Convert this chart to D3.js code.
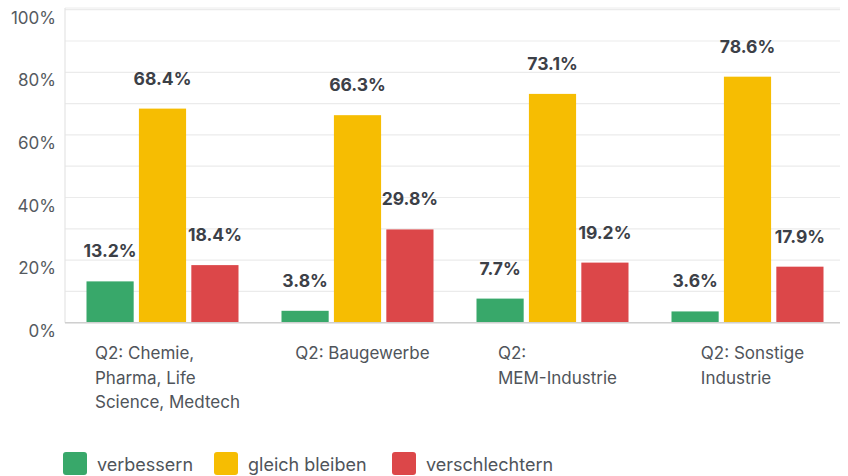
<!DOCTYPE html>
<html>
<head>
<meta charset="utf-8">
<script src="https://cdn.jsdelivr.net/npm/d3@7"></script>
<style>
  html, body { margin: 0; padding: 0; background: #ffffff; }
  svg { display: block; font-family: "Inter", "Noto Sans", sans-serif; }
</style>
</head>
<body>
<svg id="chart" width="848" height="476"></svg>
<script>
// Survey answers per industry group (share of respondents, %)
const categories = [
  ["Q2: Chemie,", "Pharma, Life", "Science, Medtech"],
  ["Q2: Baugewerbe"],
  ["Q2:", "MEM-Industrie"],
  ["Q2: Sonstige", "Industrie"]
];
const seriesNames = ["verbessern", "gleich bleiben", "verschlechtern"];
const verbessern = [13.2, 3.8, 7.7, 3.6];
const gleichBleiben = [68.4, 66.3, 73.1, 78.6];
const verschlechtern = [18.4, 29.8, 19.2, 17.9];
const yTicks = [0, 20, 40, 60, 80, 100];
const yGrid = [0, 10, 20, 30, 40, 50, 60, 70, 80, 90, 100];
const colors = ["#38a86a", "#f6bd02", "#dc4749"];

const series = [verbessern, gleichBleiben, verschlechtern];
const catKeys = categories.map(c => c.join(" "));

const svg = d3.select("#chart");
const margin = { left: 65 };
const plotRight = 845;
const baseY = 322.7;

const x0 = d3.scaleBand().domain(catKeys).range([margin.left, plotRight]).padding(0);
const groupPad = 21.5;
const x1 = d3.scaleBand().domain(seriesNames)
  .range([groupPad, x0.bandwidth() - groupPad]).paddingInner(0.1).paddingOuter(0);
const y = d3.scaleLinear().domain([0, 100]).range([baseY, 9.7]);

// Horizontal gridlines
svg.append("g").selectAll("line").data(yGrid).join("line")
  .attr("x1", margin.left).attr("x2", 840)
  .attr("y1", d => y(d)).attr("y2", d => y(d))
  .attr("stroke", "#ebebeb").attr("stroke-width", 1.2);

// Top border and vertical axis
svg.append("line").attr("x1", margin.left).attr("x2", 840)
  .attr("y1", 8).attr("y2", 8).attr("stroke", "#ececec");
svg.append("line").attr("x1", margin.left).attr("x2", margin.left)
  .attr("y1", 8).attr("y2", baseY).attr("stroke", "#e4e4e4").attr("stroke-width", 1.2);

// Y tick labels (sit slightly below their gridline)
svg.append("g").selectAll("text").data(yTicks).join("text")
  .attr("x", 56).attr("y", d => y(d) + 8)
  .attr("text-anchor", "end").attr("dominant-baseline", "central")
  .attr("font-size", 17).attr("fill", "#555a60")
  .text(d => d + "%");

// Bars with value labels
const groups = svg.append("g").selectAll("g").data(catKeys).join("g")
  .attr("transform", d => `translate(${x0(d)},0)`);

groups.each(function(cat, ci) {
  const g = d3.select(this);
  seriesNames.forEach((s, si) => {
    const v = series[si][ci];
    g.append("rect")
      .attr("x", x1(s)).attr("width", x1.bandwidth())
      .attr("y", y(v)).attr("height", baseY - y(v))
      .attr("fill", colors[si]);
    g.append("text")
      .attr("x", x1(s) + x1.bandwidth() / 2)
      .attr("y", y(v) - 24)
      .attr("text-anchor", "middle")
      .attr("font-size", 17.5).attr("font-weight", 700)
      .attr("fill", "#3c4047")
      .text(v.toFixed(1) + "%");
  });
});

// Baseline
svg.append("line").attr("x1", margin.left).attr("x2", 840)
  .attr("y1", baseY).attr("y2", baseY).attr("stroke", "#cfcfcf").attr("stroke-width", 1.5);

// Category labels: left-aligned lines in a block centred under each group
categories.forEach((lines, ci) => {
  const t = svg.append("text")
    .attr("font-size", 17).attr("fill", "#4f545a");
  lines.forEach((ln, li) => {
    t.append("tspan").attr("x", 0).attr("y", 359 + li * 24.5).text(ln);
  });
  const w = t.node().getBBox().width;
  const cx = x0(catKeys[ci]) + x0.bandwidth() / 2 + 5;
  t.attr("transform", `translate(${cx - w / 2},0)`);
});

// Legend
const legendX = [63, 214, 392];
const lg = svg.append("g").selectAll("g").data(seriesNames).join("g")
  .attr("transform", (d, i) => `translate(${legendX[i]},452)`);
lg.append("rect").attr("width", 24).attr("height", 23).attr("rx", 3)
  .attr("fill", (d, i) => colors[i]);
lg.append("text").attr("x", 34).attr("y", 12).attr("dominant-baseline", "central")
  .attr("font-size", 18).attr("fill", "#4f545a").text(d => d);
</script>
</body>
</html>
